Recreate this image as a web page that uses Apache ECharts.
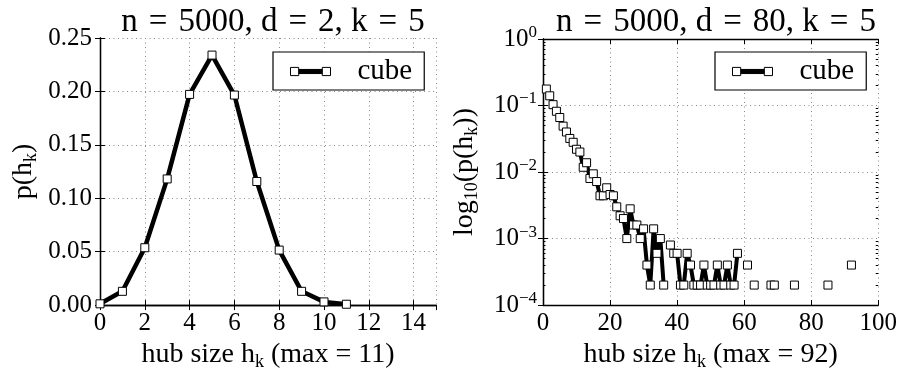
<!DOCTYPE html>
<html>
<head>
<meta charset="utf-8">
<script src="https://cdn.jsdelivr.net/npm/echarts@6/dist/echarts.min.js"></script>
<style>
  html, body { margin: 0; padding: 0; background: #fff; }
  #chart { width: 900px; height: 376px; }
</style>
</head>
<body>
<div id="chart"></div>
<script>
// ---------------- data ----------------
const titleLeft = 'n\u2004=\u20045000, d\u2004=\u20042, k\u2004=\u20045';
const titleRight = 'n\u2004=\u20045000, d\u2004=\u200480, k\u2004=\u20045';
const seriesName = 'cube';

// d = 2 : hub size and probability
const hubSizeD2 = [0, 1, 2, 3, 4, 5, 6, 7, 8, 9, 10, 11];
const probD2 = [0.0012, 0.0129, 0.0537, 0.1181, 0.1972, 0.2340, 0.1966, 0.1157, 0.0515, 0.0129, 0.0030, 0.0008];

// d = 80 : hub sizes with non-zero probability, and their probability
const hubSizeD80 = [1, 2, 3, 4, 5, 6, 7, 8, 9, 10,
  11, 12, 13, 14, 15, 16, 17, 18, 19, 20,
  21, 22, 23, 24, 25, 26, 27, 28, 29, 30,
  31, 32, 33, 34, 35, 36, 38, 39, 40,
  41, 42, 43, 44, 45, 46, 47, 48, 49, 50,
  51, 52, 53, 54, 55, 56, 57, 58,
  61, 63, 68, 69, 75, 85, 92];
const probD80 = [0.177, 0.140, 0.103, 0.082, 0.066, 0.049, 0.040, 0.032, 0.028, 0.022,
  0.020, 0.0118, 0.0138, 0.0080, 0.0094, 0.0072, 0.0044, 0.0044, 0.0058, 0.0046,
  0.0044, 0.0030, 0.0022, 0.0020, 0.0010, 0.0028, 0.0016, 0.0016, 0.0010, 0.0014,
  0.0004, 0.0002, 0.0014, 0.0006, 0.0010, 0.0002, 0.0008, 0.0006, 0.0006,
  0.0002, 0.0002, 0.0006, 0.0004, 0.0002, 0.0002, 0.0002, 0.0004, 0.0002, 0.0002,
  0.0002, 0.0004, 0.0002, 0.0002, 0.0004, 0.0002, 0.0002, 0.0006,
  0.0004, 0.0002, 0.0002, 0.0002, 0.0002, 0.0002, 0.0004];

// axis tick labels
const xTicksD2 = [0, 2, 4, 6, 8, 10, 12, 14];
const yTicksD2 = [0.00, 0.05, 0.10, 0.15, 0.20, 0.25];
const xTicksD80 = [0, 20, 40, 60, 80, 100];
const yDecadesD80 = [-4, -3, -2, -1, 0];

// ---------------- build ----------------
const FONT = 'Liberation Serif';
const BLACK = '#000';

const dataD2 = hubSizeD2.map((h, i) => [h, probD2[i]]);
// zero counts cannot be drawn on a log axis: the line breaks there
const dataD80 = [];
hubSizeD80.forEach((h, i) => {
  if (i > 0 && h - hubSizeD80[i - 1] > 1) dataD80.push([h - 1, '-']);
  dataD80.push([h, probD80[i]]);
});

const minorValues = [];
for (let e = yDecadesD80[0]; e < yDecadesD80[yDecadesD80.length - 1]; e++) {
  for (let k = 2; k <= 9; k++) minorValues.push(k * Math.pow(10, e));
}

const richName = {
  t: { fontFamily: FONT, fontSize: 28, lineHeight: 32, color: BLACK },
  s: { fontFamily: FONT, fontSize: 18, lineHeight: 18, verticalAlign: 'bottom', color: BLACK }
};
const richSup = {
  b: { fontFamily: FONT, fontSize: 25, lineHeight: 30, color: BLACK },
  p: { fontFamily: FONT, fontSize: 17, lineHeight: 17, verticalAlign: 'top', color: BLACK }
};

const axisLineStyle = { show: true, lineStyle: { color: BLACK, width: 1.3 } };
const gridLine = { show: true, lineStyle: { color: '#888', width: 1, type: [1, 3.5] } };
const majorTick = { show: true, inside: true, length: 5, lineStyle: { color: BLACK, width: 1 } };
const labelStyle = { fontFamily: FONT, fontSize: 25, color: BLACK };

function xAxes(gridIndex, min, max, interval, name) {
  return [
    {
      type: 'value', gridIndex, position: 'bottom', min, max, interval,
      axisLine: axisLineStyle, axisTick: majorTick, splitLine: gridLine,
      axisLabel: Object.assign({ margin: 6, showMaxLabel: (max % interval === 0) }, labelStyle),
      name, nameLocation: 'middle', nameGap: 31, nameTextStyle: { rich: richName }
    },
    {
      type: 'value', gridIndex, position: 'top', min, max, interval,
      axisLine: axisLineStyle, axisTick: majorTick, splitLine: { show: false },
      axisLabel: { show: false }
    }
  ];
}

let barLines = '';
for (let y = 2.5; y <= 6.5; y += 0.5) barLines += ' M8.5,' + y + 'H31.5';
const iconPath = 'path://M0.5,0.5H8.5V8.5H0.5Z M31.5,0.5H39.5V8.5H31.5Z' + barLines;

function legendAt(left) {
  return {
    data: [seriesName], left, top: 52, orient: 'horizontal',
    icon: iconPath, itemWidth: 40, itemHeight: 9,
    itemStyle: { color: '#fff', borderColor: BLACK, borderWidth: 1 },
    textStyle: { fontFamily: FONT, fontSize: 29, color: BLACK, padding: [0, 0, 0, 22] },
    borderColor: BLACK, borderWidth: 1.2, backgroundColor: '#fff',
    padding: [5, 12, 4, 17], borderRadius: 0, selectedMode: false
  };
}

const option = {
  animation: false,
  backgroundColor: '#fff',
  title: [
    { text: titleLeft, left: 268, top: 1, textAlign: 'center',
      textStyle: { fontFamily: FONT, fontSize: 33, fontWeight: 'normal', color: BLACK } },
    { text: titleRight, left: 711, top: 1, textAlign: 'center',
      textStyle: { fontFamily: FONT, fontSize: 33, fontWeight: 'normal', color: BLACK } }
  ],
  legend: [legendAt(273), legendAt(715)],
  grid: [
    { left: 100, top: 38, width: 336, height: 272 },
    { left: 543, top: 39, width: 336, height: 271 }
  ],
  xAxis: [].concat(
    xAxes(0, xTicksD2[0], 15, xTicksD2[1] - xTicksD2[0], '{t|hub size h}{s|k}{t| (max = 11)}'),
    xAxes(1, xTicksD80[0], xTicksD80[xTicksD80.length - 1], xTicksD80[1] - xTicksD80[0], '{t|hub size h}{s|k}{t| (max = 92)}')
  ),
  yAxis: [
    {
      type: 'value', gridIndex: 0, position: 'left',
      min: yTicksD2[0], max: yTicksD2[yTicksD2.length - 1], interval: yTicksD2[1] - yTicksD2[0],
      axisLine: axisLineStyle, axisTick: majorTick, splitLine: gridLine,
      axisLabel: Object.assign({ margin: 8, formatter: v => v.toFixed(2) }, labelStyle),
      name: '{t|p(h}{s|k}{t|)}', nameLocation: 'middle', nameGap: 60, nameRotate: 90,
      nameTextStyle: { rich: richName }
    },
    {
      type: 'value', gridIndex: 0, position: 'right',
      min: yTicksD2[0], max: yTicksD2[yTicksD2.length - 1], interval: yTicksD2[1] - yTicksD2[0],
      axisLine: axisLineStyle, axisTick: majorTick, splitLine: { show: false }, axisLabel: { show: false }
    },
    {
      type: 'log', logBase: 10, gridIndex: 1, position: 'left',
      min: Math.pow(10, yDecadesD80[0]), max: Math.pow(10, yDecadesD80[yDecadesD80.length - 1]),
      axisLine: axisLineStyle, axisTick: majorTick, splitLine: gridLine,
      axisLabel: {
        margin: 6, rich: richSup,
        formatter: v => {
          const e = Math.round(Math.log10(v));
          return '{b|10}{p|' + (e < 0 ? '\u2212' + (-e) : String(e)) + '}';
        }
      },
      name: '{t|log}{s|10}{t|(p(h}{s|k}{t|))}', nameLocation: 'middle', nameGap: 62, nameRotate: 90,
      nameTextStyle: { rich: richName }
    },
    {
      type: 'log', logBase: 10, gridIndex: 1, position: 'right',
      min: Math.pow(10, yDecadesD80[0]), max: Math.pow(10, yDecadesD80[yDecadesD80.length - 1]),
      axisLine: axisLineStyle, axisTick: majorTick, splitLine: { show: false }, axisLabel: { show: false }
    },
    {
      type: 'log', logBase: 10, gridIndex: 1, position: 'left',
      min: Math.pow(10, yDecadesD80[0]), max: Math.pow(10, yDecadesD80[yDecadesD80.length - 1]),
      axisLine: { show: false },
      axisTick: { show: true, inside: true, length: 2.5, customValues: minorValues, lineStyle: { color: BLACK, width: 1 } },
      splitLine: { show: false }, axisLabel: { show: false }
    },
    {
      type: 'log', logBase: 10, gridIndex: 1, position: 'right',
      min: Math.pow(10, yDecadesD80[0]), max: Math.pow(10, yDecadesD80[yDecadesD80.length - 1]),
      axisLine: { show: false },
      axisTick: { show: true, inside: true, length: 2.5, customValues: minorValues, lineStyle: { color: BLACK, width: 1 } },
      splitLine: { show: false }, axisLabel: { show: false }
    }
  ],
  series: [
    {
      name: seriesName, type: 'line', xAxisIndex: 0, yAxisIndex: 0, data: dataD2,
      symbol: 'rect', symbolSize: 8, showAllSymbol: true,
      itemStyle: { color: '#fff', borderColor: BLACK, borderWidth: 1 },
      lineStyle: { color: BLACK, width: 4.5 }, z: 3
    },
    {
      name: seriesName, type: 'line', xAxisIndex: 2, yAxisIndex: 2, data: dataD80,
      symbol: 'rect', symbolSize: 8, showAllSymbol: true, connectNulls: false,
      itemStyle: { color: '#fff', borderColor: BLACK, borderWidth: 1 },
      lineStyle: { color: BLACK, width: 4 }, z: 3
    }
  ]
};

const chart = echarts.init(document.getElementById('chart'), null, { renderer: 'canvas' });
chart.setOption(option);
</script>
</body>
</html>
